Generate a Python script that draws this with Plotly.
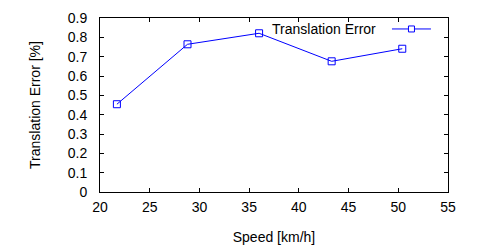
import plotly.graph_objects as go

speed = [21.7, 28.8, 36.0, 43.3, 50.4]
trans_err = [0.454, 0.764, 0.821, 0.676, 0.741]
x_ticks = [20, 25, 30, 35, 40, 45, 50, 55]
y_ticks = [0, 0.1, 0.2, 0.3, 0.4, 0.5, 0.6, 0.7, 0.8, 0.9]
series_name = "Translation Error"

FONT = "Liberation Sans"
FS = 14

fig = go.Figure()
fig.add_trace(go.Scatter(
    x=speed, y=trans_err, mode="lines+markers", name=series_name,
    line=dict(color="#0000ff", width=1),
    marker=dict(symbol="square-open", size=7, color="#0000ff", line=dict(width=1)),
    showlegend=False,
))

axis_common = dict(
    showgrid=False, zeroline=False, showline=True, mirror="ticks",
    linecolor="black", linewidth=1, ticks="inside", ticklen=4,
    tickcolor="black", tickfont=dict(family=FONT, size=FS, color="black"),
    automargin=False,
)
fig.update_xaxes(range=[20, 55], tickvals=x_ticks, ticktext=[str(v) for v in x_ticks],
                 ticklabelstandoff=2,
                 title=dict(text="Speed [km/h]", font=dict(family=FONT, size=FS, color="black"), standoff=18),
                 **axis_common)
fig.update_yaxes(range=[0, 0.9], tickvals=y_ticks, ticktext=[("%g" % v) for v in y_ticks],
                 ticklabelstandoff=9,
                 title=dict(text="Translation Error [%]", font=dict(family=FONT, size=FS, color="black"), standoff=23),
                 **axis_common)

# gnuplot-style legend: text on the left, sample on the right
lx0, lx1 = 0.839, 0.951
ly = 0.937
fig.add_annotation(xref="paper", yref="paper", x=0.799, y=ly, text=series_name, showarrow=False,
                   xanchor="right", yanchor="middle",
                   font=dict(family=FONT, size=FS, color="black"))
fig.add_shape(type="line", xref="paper", yref="paper", x0=lx0, x1=lx1, y0=ly, y1=ly,
              line=dict(color="#0000ff", width=1))
fig.add_shape(type="rect", xref="paper", yref="paper", xsizemode="pixel", ysizemode="pixel",
              xanchor=(lx0 + lx1) / 2, yanchor=ly, x0=-3, x1=3, y0=-3, y1=3,
              line=dict(color="#0000ff", width=1), fillcolor="white")

fig.update_layout(
    width=500, height=250,
    margin=dict(l=100, r=52, t=18, b=58),
    paper_bgcolor="white", plot_bgcolor="white",
    font=dict(family=FONT, size=FS, color="black"),
)
fig.write_html("out.html")
